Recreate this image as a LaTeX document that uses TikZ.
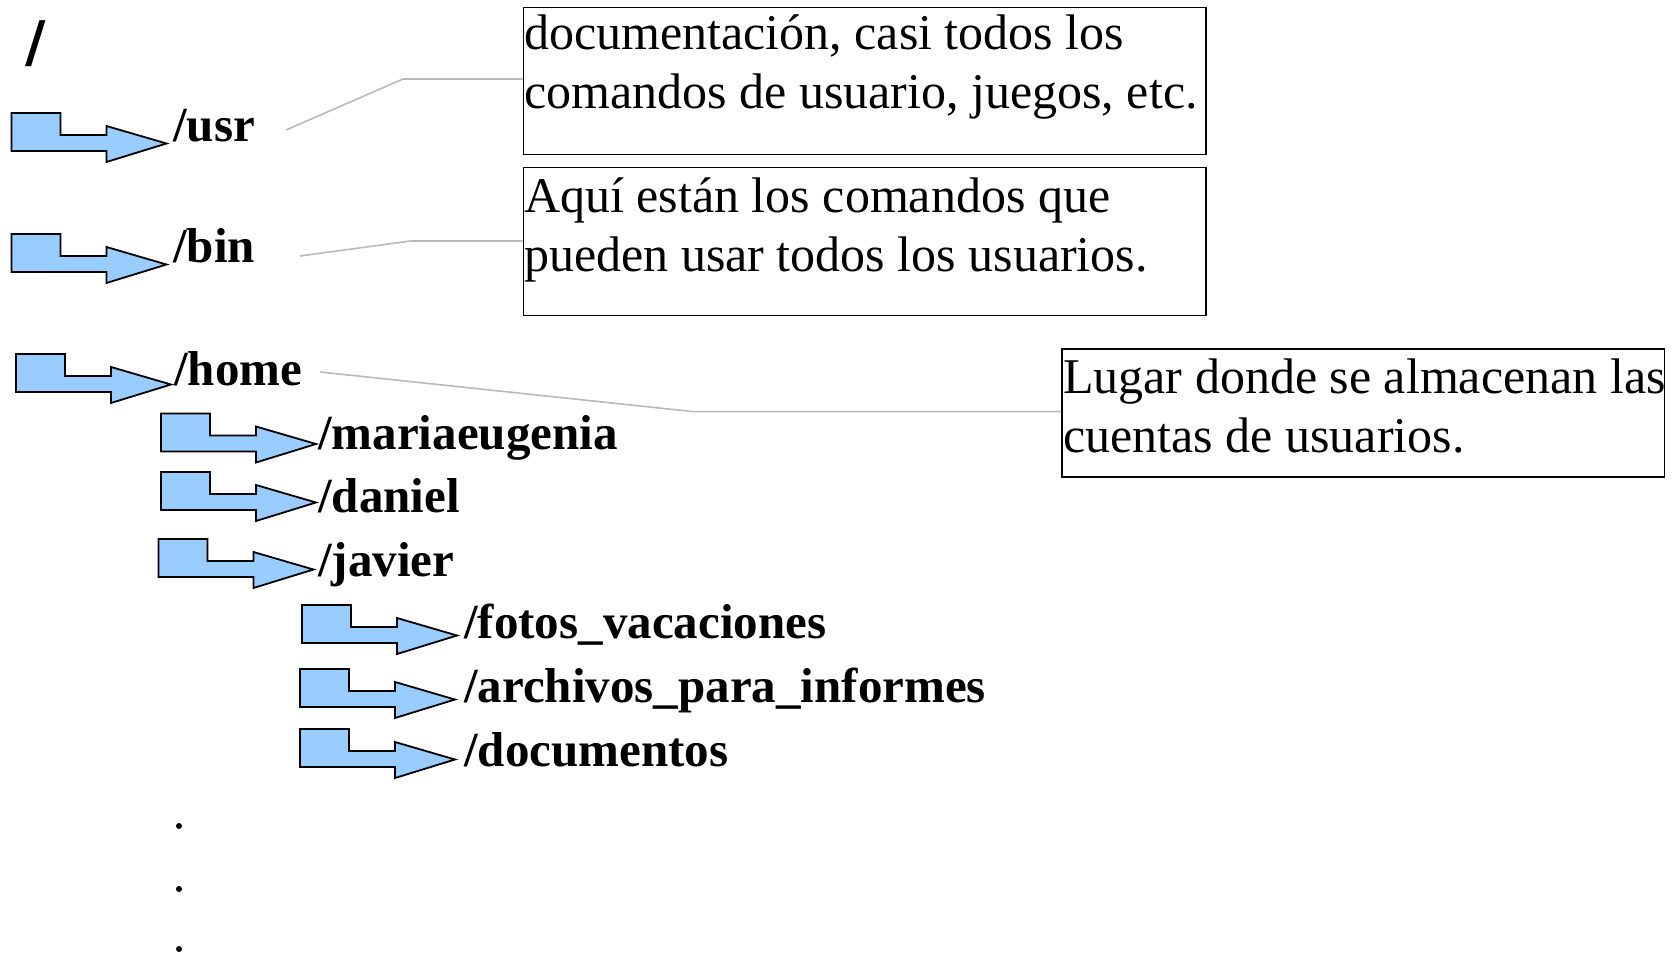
\documentclass[tikz,border=0pt]{standalone}
\usepackage{fontspec}
\setmainfont{Liberation Serif}
\newfontfamily\slashfont{DejaVu Sans}
\begin{document}
\begin{tikzpicture}[x=1pt,y=-1pt,
  arrowshape/.style={draw=black, fill=arrowblue, line width=1.8pt, line join=miter},
  folderarrow/.pic={\path[arrowshape] (0,0) -- (49,0) -- (49,22) -- (95,22) -- (95,13) -- (155,30.5) -- (95,49) -- (95,38) -- (0,38) -- cycle;},
  label/.style={anchor=base west, inner sep=0pt, font=\fontsize{49}{58}\selectfont\bfseries},
  note/.style={anchor=base west, inner sep=0pt, font=\fontsize{50}{58}\selectfont},
  box/.style={draw=black, line width=1.8pt, inner sep=0pt},
  leader/.style={draw=gray!55, line width=1.6pt},
  dot/.style={circle, fill=black, inner sep=0pt, minimum size=6pt}
]
\definecolor{arrowblue}{HTML}{99CCFF}
\useasboundingbox (0,0) rectangle (1672,957);

% root
\node[anchor=base west, inner sep=0pt, font=\fontsize{56}{60}\selectfont\slashfont\bfseries] (root) at (25,62) {/};

% arrows
\pic at (11.5,113) {folderarrow};
\pic at (11.5,234) {folderarrow};
\pic at (16,354) {folderarrow};
\pic at (161,413.5) {folderarrow};
\pic at (161,472) {folderarrow};
\pic at (158.5,539) {folderarrow};
\pic at (302,605) {folderarrow};
\pic at (300,669) {folderarrow};
\pic at (300,729) {folderarrow};

% labels
\node[label] (usr) at (173,142) {/usr};
\node[label] (bin) at (173,263) {/bin};
\node[label] (home) at (174,385) {/home};
\node[label] (maria) at (318,449) {/mariaeugenia};
\node[label] (daniel) at (318,512) {/daniel};
\node[label] (javier) at (318,576) {/javier};
\node[label] (fotos) at (464,638) {/fotos\_vacaciones};
\node[label] (archivos) at (464,702) {/archivos\_para\_informes};
\node[label] (documentos) at (464,766) {/documentos};

% boxes
\node[box, minimum width=682.5pt, minimum height=147pt] (b1) at (864.75,81) {};
\node[box, minimum width=682.5pt, minimum height=148pt] (b2) at (864.75,241.5) {};
\node[box, minimum width=602.5pt, minimum height=128pt] (b3) at (1363.25,412.6) {};

\node[note] (t1a) at (524,50) {documentación, casi todos los};
\node[note] (t1b) at (524,109) {comandos de usuario, juegos, etc.};
\node[note] (t2a) at (524,213) {Aquí están los comandos que};
\node[note] (t2b) at (524,272) {pueden usar todos los usuarios.};
\node[note] (t3a) at (1063,393.5) {Lugar donde se almacenan las};
\node[note] (t3b) at (1063,452) {cuentas de usuarios.};

% leaders
\coordinate (c1) at (286,130);
\coordinate (c2) at (300,256);
\coordinate (c3) at (320,372);
\draw[leader] (c1) -- (403,79) -- (b1.west |- 0,79);
\draw[leader] (c2) -- (410.5,241) -- (b2.west |- 0,241);
\draw[leader] (c3) -- (693,411.6) -- (b3.west |- 0,411.6);

% dots
\node[dot] (d1) at (179,826) {};
\node[dot] (d2) at (179,889) {};
\node[dot] (d3) at (179,949) {};
\end{tikzpicture}
\end{document}
